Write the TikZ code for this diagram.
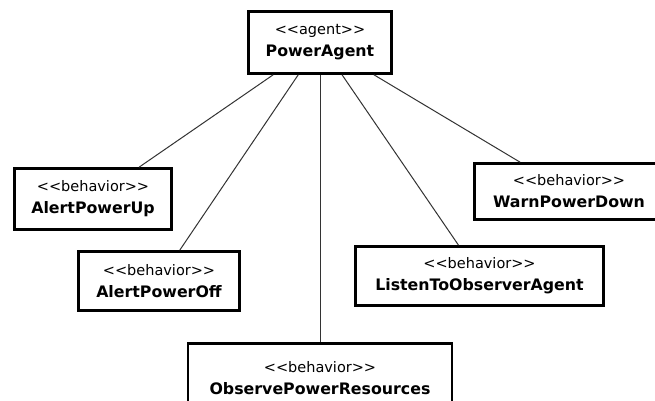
\documentclass[tikz,border=0pt]{standalone}
\usepackage{fontspec}
\setmainfont{DejaVu Sans}
\newfontfamily\stereofont{DejaVu Sans}
\newfontfamily\namefont{DejaVu Sans}[BoldFont={DejaVu Sans Bold}]
% stereotype label: the kerns keep << and >> from turning into guillemets
\newcommand{\stereo}[1]{{\stereofont\fontsize{14.5}{22}\selectfont <\kern0pt<#1>\kern0pt>}}
\newcommand{\cname}[1]{{\namefont\bfseries\fontsize{15.8}{22}\selectfont #1}}
\tikzset{
  umlbox/.style={draw=black, line width=2.6pt, fill=white, align=center,
    inner sep=0pt, font=\fontsize{15}{22}\selectfont},
  link/.style={draw=black!80, line width=1pt}
}
\begin{document}
\begin{tikzpicture}[x=1pt, y=-1pt]
  \useasboundingbox (0,0) rectangle (655,400);
  \clip (0,0) rectangle (655,400);
  \fill[white] (0,0) rectangle (655,400);

  % boxes: centre, then size without the border width
  \node[umlbox, minimum width=143pt, minimum height=62pt] (agent) at (320,42.5)
    {\stereo{agent}\\\cname{PowerAgent}};
  \node[umlbox, minimum width=157pt, minimum height=61pt] (up) at (93,199)
    {\stereo{behavior}\\\cname{AlertPowerUp}};
  \node[umlbox, minimum width=161pt, minimum height=59pt] (off) at (159,281)
    {\stereo{behavior}\\\cname{AlertPowerOff}};
  \node[umlbox, minimum width=264pt, minimum height=69pt] (obs) at (320,378)
    {\stereo{behavior}\\\cname{ObservePowerResources}};
  \node[umlbox, minimum width=248pt, minimum height=59pt] (listen) at (479.5,276)
    {\stereo{behavior}\\\cname{ListenToObserverAgent}};
  \node[umlbox, minimum width=189pt, minimum height=56pt] (warn) at (569,191.5)
    {\stereo{behavior}\\\cname{WarnPowerDown}};

  % connectors from the agent to each behaviour
  \draw[link] (agent) -- (up);
  \draw[link] (agent) -- (off);
  \draw[link] (agent) -- (obs);
  \draw[link] (agent) -- (listen);
  \draw[link] (agent) -- (warn);
\end{tikzpicture}
\end{document}
